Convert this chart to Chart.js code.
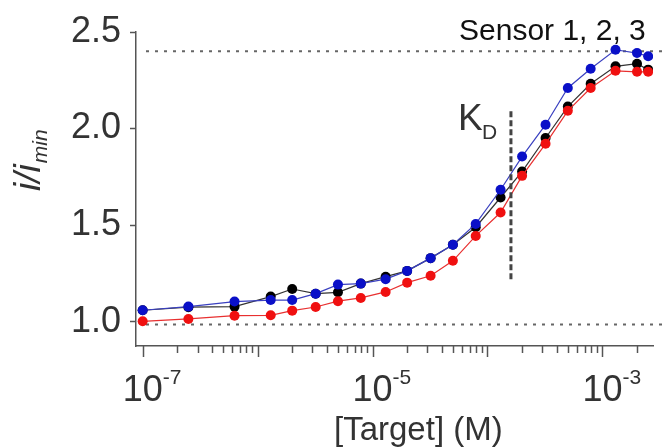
<!DOCTYPE html>
<html>
<head>
<meta charset="utf-8">
<script src="https://cdn.jsdelivr.net/npm/chart.js@4/dist/chart.umd.min.js"></script>
<style>
  html, body { margin: 0; padding: 0; background: #fff; }
  #chart { display: block; }
</style>
</head>
<body>
<canvas id="chart" width="667" height="447"></canvas>
<script>
// concentrations (M)
const conc = [1e-7, 2.5e-7, 6.3e-7, 1.3e-6, 2e-6, 3.2e-6, 5e-6, 7.9e-6, 1.3e-5, 2e-5, 3.2e-5,
    5e-5, 7.9e-5, 1.3e-4, 2e-4, 3.2e-4, 5e-4, 7.9e-4, 1.3e-3, 2e-3, 2.5e-3];
const sensor1 = [1.059, 1.075, 1.078, 1.130, 1.169, 1.145, 1.152, 1.197, 1.233, 1.263, 1.329,
    1.398, 1.489, 1.643, 1.777, 1.951, 2.114, 2.232, 2.322, 2.336, 2.305];
const sensor2 = [1.002, 1.014, 1.031, 1.033, 1.057, 1.076, 1.106, 1.123, 1.154, 1.202, 1.238,
    1.315, 1.444, 1.565, 1.755, 1.921, 2.092, 2.210, 2.299, 2.294, 2.294];
const sensor3 = [1.059, 1.078, 1.104, 1.112, 1.112, 1.145, 1.192, 1.197, 1.220, 1.263, 1.329,
    1.398, 1.506, 1.683, 1.855, 2.020, 2.210, 2.310, 2.408, 2.391, 2.374];

const yTickValues = [1.0, 1.5, 2.0, 2.5];
const xDecades = [-7, -6, -5, -4, -3];
const xLabelDecades = [-7, -5, -3];
const plateauHigh = 2.40;
const plateauLow = 0.985;
const kd = 1.6e-4;
const kdSpan = [1.22, 2.09];

const FONT = '"Liberation Sans", Arial, Helvetica, sans-serif';
const TEXT = '#333333';

const toPts = arr => arr.map((v, i) => ({ x: conc[i], y: v }));

const series = (data, point, line) => ({
    data: toPts(data),
    borderColor: line,
    backgroundColor: point,
    pointBackgroundColor: point,
    pointBorderColor: point,
    borderWidth: 1.2,
    pointRadius: 5,
    pointBorderWidth: 0,
    tension: 0,
    showLine: true,
    fill: false
});

const overlay = {
    id: 'overlay',
    beforeDatasetsDraw(chart) {
        const { ctx, chartArea: ca, scales: { y } } = chart;
        ctx.save();
        ctx.strokeStyle = '#666';
        ctx.lineWidth = 2;
        ctx.setLineDash([3, 6]);
        [plateauHigh, plateauLow].forEach(v => {
            const py = y.getPixelForValue(v);
            ctx.beginPath();
            ctx.moveTo(ca.left + 10, py);
            ctx.lineTo(chart.width, py);
            ctx.stroke();
        });
        ctx.restore();
    },
    afterDraw(chart) {
        const { ctx, chartArea: ca, scales: { x, y } } = chart;
        ctx.save();

        // KD marker
        const kx = x.getPixelForValue(kd);
        ctx.strokeStyle = '#444';
        ctx.lineWidth = 3;
        ctx.setLineDash([6, 3]);
        ctx.beginPath();
        ctx.moveTo(kx, y.getPixelForValue(kdSpan[1]));
        ctx.lineTo(kx, y.getPixelForValue(kdSpan[0]));
        ctx.stroke();
        ctx.setLineDash([]);

        // x tick marks
        ctx.strokeStyle = '#555';
        ctx.lineWidth = 1.5;
        xDecades.forEach(d => {
            for (let m = 1; m <= 9; m++) {
                const v = m * Math.pow(10, d);
                if (v > x.max) continue;
                const px = Math.round(x.getPixelForValue(v)) + 0.5;
                ctx.beginPath();
                ctx.moveTo(px, ca.bottom);
                ctx.lineTo(px, ca.bottom + (m === 1 ? 11 : 7));
                ctx.stroke();
            }
        });

        // x tick labels 10^n
        ctx.fillStyle = TEXT;
        ctx.textBaseline = 'alphabetic';
        xLabelDecades.forEach(d => {
            const px = x.getPixelForValue(Math.pow(10, d));
            ctx.font = '36px ' + FONT;
            const w = ctx.measureText('10').width;
            ctx.textAlign = 'center';
            ctx.fillText('10', px, 401);
            ctx.font = '21px ' + FONT;
            ctx.textAlign = 'left';
            ctx.fillText(String(d), px + w / 2, 384);
        });

        // x title
        ctx.font = '33px ' + FONT;
        ctx.textAlign = 'left';
        ctx.fillText('[Target] (M)', 334, 440);

        // y title i/i_min
        ctx.save();
        ctx.translate(40, 191);
        ctx.rotate(-Math.PI / 2);
        ctx.font = 'italic 37px ' + FONT;
        ctx.textAlign = 'left';
        ctx.fillText('i/i', 0, 0);
        const iw = ctx.measureText('i/i').width;
        ctx.font = 'italic 21px ' + FONT;
        ctx.fillText('min', iw + 1, 7);
        ctx.restore();

        // K_D label
        ctx.fillStyle = TEXT;
        ctx.font = '37px ' + FONT;
        ctx.fillText('K', 458, 130);
        ctx.font = '21px ' + FONT;
        ctx.fillText('D', 482, 139);

        // Sensor label
        ctx.fillStyle = '#111';
        ctx.font = '30px ' + FONT;
        ctx.fillText('Sensor 1, 2, 3', 459, 40);

        ctx.restore();
    }
};

new Chart(document.getElementById('chart'), {
    type: 'scatter',
    data: {
        datasets: [
            series(sensor3, '#0a10c8', '#3a40c0'),
            series(sensor2, '#f01010', '#e83030'),
            series(sensor1, '#000000', '#333333')
        ]
    },
    plugins: [overlay],
    options: {
        responsive: false,
        animation: false,
        layout: { padding: { top: 32, right: 14, left: 0, bottom: 0 } },
        plugins: { legend: { display: false }, tooltip: { enabled: false } },
        scales: {
            x: {
                type: 'logarithmic',
                min: Math.pow(10, -7.058),
                max: Math.pow(10, -2.56),
                afterFit: s => { s.height = 101; },
                ticks: { display: false },
                grid: { display: false },
                border: { color: '#555', width: 1.5 }
            },
            y: {
                min: 0.874,
                max: 2.5,
                afterFit: s => { s.width = 136; },
                afterBuildTicks: s => { s.ticks = yTickValues.map(v => ({ value: v })); },
                ticks: {
                    color: TEXT,
                    font: { family: FONT, size: 36 },
                    padding: 9,
                    callback: v => v.toFixed(1)
                },
                grid: { drawOnChartArea: false, tickLength: 6, tickColor: '#555', tickWidth: 1.5 },
                border: { color: '#555', width: 1.5 }
            }
        }
    }
});
</script>
</body>
</html>
